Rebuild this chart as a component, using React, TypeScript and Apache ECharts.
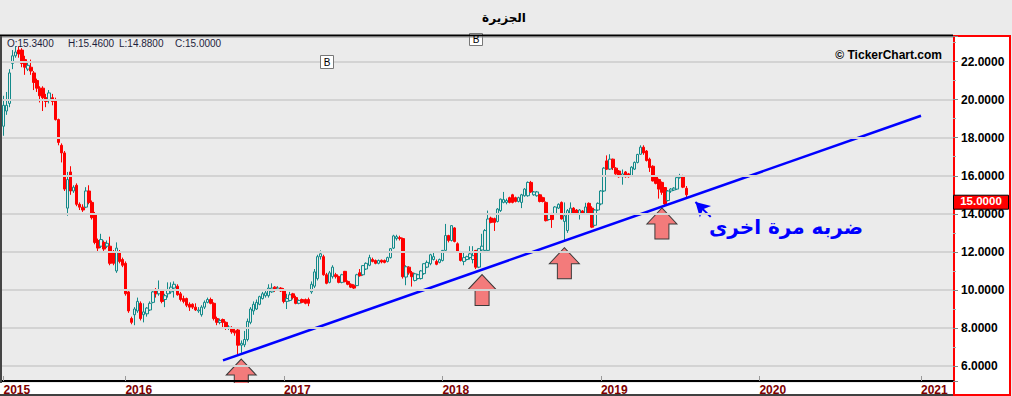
import React, { useEffect, useRef } from "react";
import * as echarts from "echarts";

// ---------- categories (weekly, first week 2015-04-02) ----------
const FIRST_WEEK = Date.UTC(2015, 3, 2);
const WEEK_COUNT = 312;
const weekDates: string[] = [];
for (let i = 0; i < WEEK_COUNT; i++) {
  weekDates.push(new Date(FIRST_WEEK + i * 7 * 86400000).toISOString().slice(0, 10));
}
const yearStart: boolean[] = weekDates.map((d, i) => i === 0 || d.slice(0, 4) !== weekDates[i - 1].slice(0, 4));

// ---------- weekly candles [open, close, low, high] ----------
const ohlc2015: number[][] = [
  [18.6, 19.7, 18.1, 20.2], [19.4, 19.7, 19.2, 20.4], [19.8, 21.4, 19.6, 21.6], [21.9, 22.3, 21.6, 22.6],
  [22.3, 22.5, 22.2, 22.8], [22.6, 22.4, 22.2, 22.8], [22.6, 21.9, 21.7, 22.7], [22.1, 21.7, 21.3, 22.3],
  [21.6, 21.8, 21.5, 22.0], [21.7, 21.5, 21.3, 22.1], [21.4, 20.9, 20.5, 21.5], [21.0, 20.6, 20.4, 21.1],
  [20.6, 20.2, 19.85, 20.7], [20.6, 20.1, 19.4, 20.7], [20.1, 19.9, 19.6, 20.3], [20.0, 20.35, 19.8, 20.5],
  [20.1, 19.9, 19.7, 20.3], [20.0, 18.95, 18.9, 20.1], [18.95, 17.75, 17.6, 19.0], [17.6, 17.2, 16.7, 17.7],
  [17.2, 15.3, 15.2, 17.3], [14.3, 15.8, 13.9, 16.2], [16.2, 15.2, 15.0, 16.5], [15.2, 15.4, 15.1, 15.5],
  [15.5, 14.5, 14.4, 15.6], [14.5, 14.35, 14.2, 14.6], [14.35, 14.2, 14.1, 14.5], [14.35, 15.2, 14.3, 15.4],
  [15.2, 14.6, 14.5, 15.5], [14.6, 13.8, 13.7, 14.7], [14.0, 12.5, 12.4, 14.1], [12.6, 12.2, 12.0, 12.7],
  [12.3, 12.65, 12.2, 12.95], [12.5, 12.15, 12.05, 12.6], [12.3, 12.45, 12.2, 12.6], [12.3, 11.4, 11.3, 12.8],
  [12.0, 11.4, 11.3, 12.1], [11.0, 12.2, 10.9, 12.5], [12.0, 11.5, 11.4, 12.1], [11.6, 11.3, 11.2, 11.7],
];
const ohlc2016: number[][] = [
  [11.4, 9.8, 9.7, 11.5], [9.9, 8.9, 8.8, 10.0], [8.5, 8.3, 8.2, 8.6], [8.7, 9.0, 8.15, 9.1],
  [8.9, 9.4, 8.8, 9.6], [9.3, 8.5, 8.4, 9.4], [8.7, 8.85, 8.3, 9.3], [8.75, 9.05, 8.6, 9.1],
  [8.95, 9.3, 8.9, 9.4], [9.35, 9.9, 9.3, 10.0], [10.0, 9.8, 9.6, 10.1], [9.8, 10.0, 9.7, 10.5],
  [10.0, 9.4, 9.3, 10.05], [9.5, 9.7, 9.1, 9.8], [9.8, 10.0, 9.6, 10.4], [9.9, 10.15, 9.8, 10.4],
  [10.1, 10.3, 9.6, 10.45], [10.2, 9.75, 9.7, 10.3], [9.8, 9.5, 9.4, 9.9], [9.55, 9.4, 9.3, 9.7],
  [9.55, 9.2, 9.1, 9.6], [9.25, 9.1, 8.9, 9.35], [9.25, 9.1, 9.0, 9.3], [9.1, 8.95, 8.9, 9.3],
  [8.9, 8.95, 8.8, 9.1], [8.7, 9.1, 8.6, 9.2], [9.1, 9.35, 9.0, 9.45], [9.35, 9.5, 9.3, 9.6],
  [9.5, 9.3, 9.25, 9.6], [9.3, 8.5, 8.4, 9.35], [8.5, 8.3, 8.15, 8.6], [8.3, 8.4, 8.2, 8.5],
  [8.45, 8.3, 8.0, 8.5], [8.3, 7.98, 7.9, 8.35], [7.98, 8.05, 7.9, 8.15], [8.0, 7.8, 7.7, 8.1],
  [7.85, 7.75, 7.6, 7.95], [7.9, 7.1, 6.6, 7.95], [7.1, 7.2, 6.7, 7.35], [7.12, 7.4, 7.0, 7.85],
  [7.4, 8.35, 7.3, 8.5], [8.3, 9.0, 8.2, 9.1], [8.9, 9.25, 8.7, 9.4], [9.0, 9.35, 8.95, 9.5],
  [9.25, 9.65, 9.2, 9.7], [9.55, 9.8, 9.5, 9.9], [9.7, 9.85, 9.6, 9.95], [9.7, 10.1, 9.6, 10.3],
  [9.9, 10.1, 9.85, 10.35], [10.15, 10.05, 9.9, 10.2], [10.0, 10.1, 9.95, 10.2], [10.1, 9.95, 9.9, 10.15],
];
const ohlc2017: number[][] = [
  [10.0, 9.4, 9.3, 10.1], [9.4, 9.55, 9.0, 9.8], [9.45, 9.75, 9.4, 9.9], [9.8, 9.6, 9.5, 9.85],
  [9.6, 9.3, 9.25, 9.7], [9.3, 9.45, 9.25, 9.5], [9.5, 9.35, 9.3, 9.55], [9.5, 9.3, 9.25, 9.55],
  [9.5, 9.3, 9.15, 9.6], [9.9, 10.3, 9.8, 10.45], [10.2, 10.95, 10.1, 11.1], [10.6, 11.75, 10.5, 11.85],
  [11.75, 11.9, 11.6, 12.08], [11.75, 10.8, 10.75, 11.85], [10.8, 10.35, 10.3, 10.9], [10.4, 10.9, 10.35, 11.0],
  [10.7, 11.2, 10.6, 11.3], [10.8, 10.7, 10.6, 10.9], [10.7, 10.4, 10.35, 10.75], [10.4, 10.8, 10.35, 10.85],
  [10.98, 10.44, 10.4, 11.0], [10.45, 10.3, 10.25, 10.5], [10.3, 10.15, 10.1, 10.35], [10.25, 10.1, 10.05, 10.3],
  [10.23, 10.8, 10.2, 10.85], [10.9, 10.75, 10.7, 11.1], [10.8, 11.28, 10.75, 11.3], [11.1, 11.4, 11.05, 11.45],
  [11.3, 11.7, 11.25, 11.85], [11.6, 11.5, 11.45, 11.7], [11.55, 11.4, 11.35, 11.6], [11.4, 11.55, 11.35, 11.6],
  [11.56, 11.47, 11.4, 11.6], [11.55, 11.45, 11.4, 11.6], [11.5, 11.7, 11.45, 11.75], [11.7, 12.17, 11.65, 12.2],
  [12.2, 12.84, 12.15, 12.9], [12.7, 12.8, 12.6, 12.9], [12.75, 12.7, 12.6, 12.85], [12.7, 10.7, 10.6, 12.75],
  [10.68, 11.22, 10.25, 11.3], [11.2, 10.9, 10.8, 11.25], [10.9, 10.7, 10.18, 11.0], [10.5, 10.85, 10.45, 10.9],
  [10.6, 10.8, 10.55, 10.85], [10.6, 11.0, 10.55, 11.05], [10.86, 11.38, 10.8, 11.4], [11.2, 11.45, 11.15, 11.55],
  [11.38, 11.85, 11.3, 11.9], [11.6, 11.75, 11.55, 12.0], [11.5, 11.35, 11.3, 11.6], [11.45, 11.6, 11.4, 11.65],
];
const ohlc2018: number[][] = [
  [11.55, 12.08, 11.5, 12.1], [12.08, 12.86, 12.0, 13.47], [12.86, 12.6, 12.5, 12.9], [12.6, 13.38, 12.55, 13.4],
  [13.26, 12.55, 12.5, 13.3], [12.43, 12.0, 11.95, 12.5], [12.0, 11.55, 11.5, 12.05], [11.5, 11.7, 11.3, 11.95],
  [11.6, 11.75, 11.55, 11.8], [11.7, 11.9, 11.6, 12.3], [11.6, 11.8, 11.4, 12.3], [12.08, 11.2, 11.1, 12.1],
  [11.2, 12.17, 11.15, 12.2], [12.1, 12.3, 12.0, 12.95], [12.08, 13.12, 12.0, 13.2], [12.08, 13.73, 12.05, 14.17],
  [13.78, 13.55, 13.5, 13.85], [13.75, 13.55, 13.1, 13.8], [13.6, 14.25, 13.55, 14.3], [14.17, 14.77, 14.1, 14.8],
  [14.6, 14.75, 14.55, 15.15], [14.6, 14.7, 14.5, 14.8], [14.85, 14.6, 14.55, 14.9], [15.0, 14.6, 14.55, 15.05],
  [14.85, 14.65, 14.6, 14.9], [14.65, 14.85, 14.6, 14.9], [14.6, 15.0, 14.3, 15.05], [14.95, 15.3, 14.9, 15.35],
  [14.95, 15.65, 14.9, 15.7], [15.65, 15.15, 15.1, 15.73], [15.0, 15.15, 14.95, 15.2], [14.95, 15.15, 14.9, 15.2],
  [15.0, 14.65, 14.6, 15.05], [14.85, 14.65, 14.6, 14.9], [14.6, 13.64, 13.6, 14.65], [13.7, 14.0, 13.65, 14.05],
  [14.0, 13.7, 13.26, 14.05], [14.0, 14.36, 13.95, 14.4], [14.3, 14.5, 14.25, 14.55], [14.6, 13.73, 13.7, 14.65],
  [13.6, 13.9, 12.6, 14.6], [13.12, 14.17, 13.0, 14.25], [14.0, 14.3, 13.95, 14.6], [14.3, 14.0, 13.95, 14.35],
  [14.2, 14.0, 13.95, 14.25], [14.0, 14.2, 13.7, 14.25], [14.15, 14.0, 13.95, 14.2], [14.0, 14.36, 13.95, 14.58],
  [14.55, 14.0, 13.95, 14.6], [14.3, 13.3, 13.25, 14.4], [13.4, 14.2, 13.35, 14.25], [14.2, 14.55, 14.15, 14.6],
];
const ohlc2019: number[][] = [
  [14.52, 15.2, 14.45, 15.25], [15.2, 16.4, 15.15, 16.45], [16.78, 16.35, 16.3, 17.07], [16.35, 16.87, 16.3, 17.13],
  [16.87, 16.43, 16.3, 16.9], [16.4, 16.1, 16.05, 16.45], [16.25, 15.95, 15.9, 16.3], [15.95, 16.1, 15.53, 16.33],
  [16.2, 15.95, 15.9, 16.25], [16.1, 15.95, 15.9, 16.15], [16.0, 16.45, 15.95, 16.5], [16.35, 16.7, 16.3, 16.75],
  [16.7, 17.12, 16.65, 17.15], [17.13, 17.5, 17.1, 17.6], [17.5, 17.2, 17.1, 17.6], [17.3, 16.8, 16.75, 17.35],
  [16.87, 16.43, 16.2, 16.95], [16.5, 15.73, 15.7, 16.55], [15.95, 15.6, 15.55, 16.0], [15.8, 15.3, 14.8, 15.85],
  [15.65, 15.13, 15.0, 15.7], [15.38, 14.52, 14.45, 15.4], [14.7, 15.2, 14.65, 15.25], [15.2, 15.3, 15.1, 15.35],
  [15.25, 15.35, 15.2, 15.4], [15.3, 15.9, 15.25, 15.95], [15.9, 16.0, 15.85, 16.1], [16.0, 15.4, 15.35, 16.05],
  [15.34, 15.0, 14.88, 15.46],
];
const candles = [...ohlc2015, ...ohlc2016, ...ohlc2017, ...ohlc2018, ...ohlc2019];
const last = candles[candles.length - 1];

// ---------- annotations (week index, price) ----------
const trendLine: number[][] = [[72, 6.3], [301, 19.15]];
const hitArrows: number[][] = [[78, 6.37], [157, 10.81], [184, 12.22], [216, 14.31]];
const pointerFrom = [232, 13.84];
const pointerTo = [227, 14.62];
const annotationText = "ضربه مرة اخرى";
const titleText = "الجزيرة";

// ---------- layout ----------
const W = 1012, H = 396;
const GRID_LEFT = 2, GRID_TOP = 36, GRID_RIGHT = 59, GRID_BOTTOM = 13;
const Y_MIN = 5.22, Y_MAX = 23.34;
const PLOT_H = H - GRID_TOP - GRID_BOTTOM;
const PLOT_R = W - GRID_RIGHT;
const priceY = GRID_TOP + ((Y_MAX - last[1]) / (Y_MAX - Y_MIN)) * PLOT_H;

const TEAL = "#138A8A";
const RED = "#FF0000";
const BG = "#EBEBEB";
const NUM_FONT = "Liberation Sans, Arial, sans-serif";
const AR_FONT = "DejaVu Sans, sans-serif";

const arrowPath = "path://M15,0 L30,16 L22,16 L22,31 L8,31 L8,16 L0,16 Z";

export default function App() {
  const ref = useRef<HTMLDivElement>(null);
  useEffect(() => {
    if (!ref.current) return;
    const chart = echarts.init(ref.current, undefined, { renderer: "svg" });
    const ohlcLabels = [
      { x: 7, t: "O:" + last[0].toFixed(4) },
      { x: 68, t: "H:" + last[3].toFixed(4) },
      { x: 119, t: "L:" + last[2].toFixed(4) },
      { x: 175, t: "C:" + last[1].toFixed(4) },
    ];
    chart.setOption({
      animation: false,
      backgroundColor: BG,
      grid: { left: GRID_LEFT, right: GRID_RIGHT, top: GRID_TOP, bottom: GRID_BOTTOM },
      xAxis: {
        type: "category",
        data: weekDates,
        boundaryGap: true,
        z: 10,
        axisLine: { show: true, lineStyle: { color: "#000", width: 2 } },
        axisTick: {
          show: true,
          inside: true,
          length: 5,
          alignWithLabel: true,
          interval: (i: number) => yearStart[i],
          lineStyle: { color: "#999" },
        },
        axisLabel: {
          show: true,
          interval: (i: number) => yearStart[i],
          formatter: (v: string) => v.slice(0, 4),
          align: "left",
          margin: 3,
          color: "#800000",
          fontWeight: "bold",
          fontSize: 12,
          fontFamily: NUM_FONT,
        },
        splitLine: { show: false },
      },
      yAxis: {
        type: "value",
        position: "right",
        min: Y_MIN,
        max: Y_MAX,
        splitNumber: 9,
        z: 10,
        axisLine: { show: false },
        axisTick: { show: true, length: 5, lineStyle: { color: "#888" } },
        minorTick: { show: true, splitNumber: 2, length: 3, lineStyle: { color: "#aaa" } },
        splitLine: { show: true, lineStyle: { color: "#D3D3D3", width: 2 } },
        axisLabel: {
          margin: 8,
          color: "#000",
          fontWeight: "bold",
          fontSize: 12,
          lineHeight: 10,
          fontFamily: NUM_FONT,
          formatter: (v: number) => {
            const r = Math.round(v);
            return Math.abs(v - r) < 1e-6 && r % 2 === 0 ? r.toFixed(4) : "";
          },
        },
      },
      series: [
        {
          type: "candlestick",
          data: candles,
          barWidth: 3,
          z: 2,
          itemStyle: {
            color: BG,
            color0: RED,
            borderColor: TEAL,
            borderColor0: RED,
            borderWidth: 1,
          },
        },
        {
          type: "line",
          data: trendLine,
          symbol: "none",
          z: 3,
          lineStyle: { color: "#0000FF", width: 2.5 },
          markLine: {
            silent: true,
            symbol: ["none", "arrow"],
            symbolSize: [12, 14],
            label: { show: false },
            lineStyle: { color: "#0000FF", width: 2, type: "solid" },
            data: [[{ coord: pointerFrom }, { coord: pointerTo }]],
          },
        },
        {
          type: "scatter",
          data: hitArrows,
          symbol: arrowPath,
          symbolSize: [30, 31],
          symbolOffset: [0, "50%"],
          z: 4,
          itemStyle: { color: "#F37B7B", borderColor: "#3a3a3a", borderWidth: 1, opacity: 1 },
        },
      ],
      graphic: [
        // right price panel
        {
          type: "rect",
          z: -1,
          shape: { x: 954, y: 36, width: 56, height: 359 },
          style: { fill: "#fff", stroke: RED, lineWidth: 2 },
        },
        // bottom date strip
        {
          type: "rect",
          z: 5,
          shape: { x: 0, y: 383, width: PLOT_R, height: 13 },
          style: { fill: "#fff" },
        },
        {
          type: "line",
          z: 6,
          shape: { x1: 0, y1: 395, x2: PLOT_R, y2: 395 },
          style: { stroke: "#000", lineWidth: 1.5 },
        },
        // top border
        {
          type: "line",
          z: 20,
          shape: { x1: 0, y1: 35.5, x2: PLOT_R, y2: 35.5 },
          style: { stroke: "#000", lineWidth: 2 },
        },
        {
          type: "line",
          z: 20,
          shape: { x1: 0, y1: 37, x2: PLOT_R, y2: 37 },
          style: { stroke: "#8a8a8a", lineWidth: 1 },
        },
        // left border
        {
          type: "line",
          z: 20,
          shape: { x1: 1, y1: 36, x2: 1, y2: 383 },
          style: { stroke: "#444", lineWidth: 2 },
        },
        // title
        {
          type: "text",
          z: 20,
          x: 504,
          y: 18,
          style: {
            text: titleText,
            fill: "#000",
            font: "bold 12px " + AR_FONT,
            align: "center",
            verticalAlign: "middle",
          },
        },
        // OHLC readout
        ...ohlcLabels.map((o) => ({
          type: "text",
          z: 20,
          x: o.x,
          y: 43,
          style: {
            text: o.t,
            fill: "#1e1e3c",
            font: "10px " + NUM_FONT,
            align: "left",
            verticalAlign: "middle",
          },
        })),
        // copyright
        {
          type: "text",
          z: 20,
          x: 942,
          y: 55,
          style: {
            text: "© TickerChart.com",
            fill: "#000",
            font: "bold 12px " + NUM_FONT,
            align: "right",
            verticalAlign: "middle",
          },
        },
        // B markers
        {
          type: "group",
          z: 15,
          children: [
            {
              type: "rect",
              z: 15,
              shape: { x: 320.5, y: 55.5, width: 13, height: 13 },
              style: { fill: "#fff", stroke: "#777", lineWidth: 1 },
            },
            {
              type: "text",
              z: 16,
              x: 327,
              y: 62.5,
              style: { text: "B", fill: "#000", font: "10px " + NUM_FONT, align: "center", verticalAlign: "middle" },
            },
            {
              type: "rect",
              z: 15,
              shape: { x: 469.5, y: 33.5, width: 13, height: 12 },
              style: { fill: "#fff", stroke: "#777", lineWidth: 1 },
            },
            {
              type: "text",
              z: 21,
              x: 476,
              y: 39.5,
              style: { text: "B", fill: "#000", font: "10px " + NUM_FONT, align: "center", verticalAlign: "middle" },
            },
          ],
        },
        // Arabic annotation
        {
          type: "text",
          z: 20,
          x: 786,
          y: 227,
          style: {
            text: annotationText,
            fill: "#0000FF",
            font: "bold 20px " + AR_FONT,
            align: "center",
            verticalAlign: "middle",
          },
        },
        // last price tag
        {
          type: "rect",
          z: 30,
          shape: { x: 953.5, y: priceY - 0.5, width: 55, height: 14 },
          style: { fill: RED, stroke: "#000", lineWidth: 1 },
        },
        {
          type: "text",
          z: 31,
          x: 981,
          y: priceY + 5.5,
          style: {
            text: last[1].toFixed(4),
            fill: "#fff",
            font: "bold 11.5px " + NUM_FONT,
            lineHeight: 11,
            align: "center",
            verticalAlign: "middle",
          },
        },
      ],
    });
    return () => chart.dispose();
  }, []);
  return (
    <div
      ref={ref}
      style={{ position: "absolute", left: 0, top: 0, width: W, height: H }}
    />
  );
}
